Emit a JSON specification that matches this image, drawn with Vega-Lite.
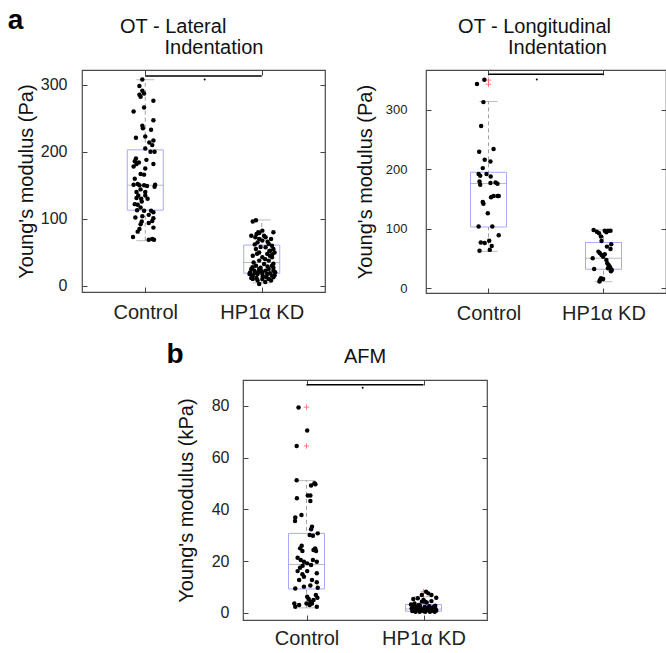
{
"$schema": "https://vega.github.io/schema/vega-lite/v6.json",
"padding": {"left": 7, "top": 6, "right": 4, "bottom": 5},
"config": {
  "font": "Liberation Sans",
  "view": {"stroke": "#4a4a4a", "strokeWidth": 1.2},
  "axis": {"grid": false, "domain": false, "tickSize": -5, "tickColor": "#444", "tickWidth": 1, "labelFontSize": 16, "labelColor": "#222", "titleFontSize": 20, "titleFontWeight": "normal", "titleColor": "#111"},
  "title": {"color": "#111"}
},
"datasets": {
  "latBox": [{"g": 1, "q1": 113, "med": 150, "q3": 203, "lo": 67.5, "hi": 307.5}, {"g": 2, "q1": 19, "med": 35, "q3": 61, "lo": 4.5, "hi": 98.5}],
  "latSig": [{"x1": 1, "x2": 2, "y": 313, "mx": 1.51, "my": 308}],
  "latPts": [
    {"x": 0.975, "v": 308}, {"x": 0.95, "v": 298}, {"x": 0.975, "v": 291}, {"x": 0.95, "v": 285}, {"x": 0.96, "v": 282}, {"x": 0.99, "v": 287}, {"x": 1.07, "v": 276}, {"x": 0.90, "v": 260}, {"x": 0.99, "v": 266}, {"x": 1.07, "v": 247}, {"x": 0.975, "v": 239}, {"x": 0.98, "v": 235}, {"x": 1.05, "v": 233}, {"x": 0.92, "v": 221}, {"x": 1.0, "v": 223}, {"x": 1.07, "v": 217}, {"x": 1.035, "v": 214}, {"x": 1.06, "v": 210}, {"x": 1.045, "v": 200}, {"x": 1.08, "v": 200}, {"x": 1.0, "v": 205}, {"x": 0.92, "v": 190}, {"x": 0.91, "v": 186}, {"x": 0.925, "v": 182}, {"x": 0.90, "v": 178}, {"x": 1.01, "v": 188}, {"x": 1.07, "v": 182}, {"x": 1.0, "v": 175}, {"x": 0.96, "v": 167}, {"x": 0.99, "v": 166}, {"x": 0.91, "v": 160}, {"x": 0.935, "v": 152}, {"x": 0.90, "v": 151}, {"x": 0.95, "v": 150}, {"x": 0.99, "v": 150}, {"x": 1.015, "v": 149}, {"x": 1.085, "v": 151}, {"x": 0.96, "v": 144}, {"x": 0.925, "v": 140}, {"x": 1.0, "v": 140}, {"x": 0.94, "v": 135}, {"x": 0.925, "v": 131}, {"x": 0.965, "v": 130}, {"x": 1.0, "v": 135}, {"x": 0.91, "v": 122}, {"x": 0.935, "v": 121}, {"x": 0.97, "v": 126}, {"x": 0.99, "v": 112}, {"x": 1.05, "v": 112}, {"x": 1.03, "v": 106}, {"x": 1.07, "v": 110}, {"x": 0.915, "v": 102}, {"x": 0.975, "v": 104}, {"x": 0.97, "v": 96}, {"x": 0.96, "v": 92}, {"x": 1.07, "v": 101}, {"x": 1.03, "v": 94}, {"x": 0.95, "v": 85}, {"x": 1.07, "v": 87}, {"x": 0.895, "v": 73}, {"x": 0.935, "v": 81}, {"x": 1.03, "v": 69}, {"x": 1.06, "v": 70}, {"x": 1.075, "v": 69}, {"x": 1.08, "v": 148}, {"x": 0.945, "v": 184}, {"x": 1.06, "v": 97}, {"x": 0.93, "v": 113}, {"x": 1.02, "v": 130}, {"x": 0.96, "v": 117},
    {"x": 1.923, "v": 96}, {"x": 1.95, "v": 98}, {"x": 2.005, "v": 82.5}, {"x": 1.978, "v": 79}, {"x": 1.956, "v": 77.6}, {"x": 2.1, "v": 80}, {"x": 1.91, "v": 75}, {"x": 1.945, "v": 72.7}, {"x": 1.978, "v": 70}, {"x": 2.033, "v": 72.7}, {"x": 2.005, "v": 67.6}, {"x": 1.964, "v": 65}, {"x": 2.06, "v": 62.7}, {"x": 2.088, "v": 60}, {"x": 2.033, "v": 57.7}, {"x": 1.95, "v": 55}, {"x": 2.074, "v": 52.7}, {"x": 2.1, "v": 55}, {"x": 1.978, "v": 50}, {"x": 2.047, "v": 47.8}, {"x": 1.923, "v": 45}, {"x": 2.005, "v": 42.8}, {"x": 2.088, "v": 42.8}, {"x": 1.978, "v": 37.8}, {"x": 2.06, "v": 37.8}, {"x": 2.02, "v": 32.8}, {"x": 1.95, "v": 30.3}, {"x": 2.088, "v": 30.3}, {"x": 1.91, "v": 25.4}, {"x": 1.937, "v": 22.8}, {"x": 1.978, "v": 25.4}, {"x": 2.033, "v": 22.8}, {"x": 2.06, "v": 25.4}, {"x": 2.1, "v": 22.8}, {"x": 1.895, "v": 17.9}, {"x": 1.923, "v": 15.4}, {"x": 1.964, "v": 17.9}, {"x": 2.005, "v": 17.9}, {"x": 2.047, "v": 17.9}, {"x": 2.088, "v": 15.4}, {"x": 2.115, "v": 20.4}, {"x": 1.923, "v": 10.4}, {"x": 1.964, "v": 8}, {"x": 2.005, "v": 10.4}, {"x": 2.06, "v": 10.4}, {"x": 2.1, "v": 13}, {"x": 1.978, "v": 3},
    {"x": 1.90, "v": 20}, {"x": 1.94, "v": 19}, {"x": 1.97, "v": 21}, {"x": 2.01, "v": 14}, {"x": 2.04, "v": 13}, {"x": 2.07, "v": 19}, {"x": 2.11, "v": 16}, {"x": 1.92, "v": 28}, {"x": 1.99, "v": 27}, {"x": 2.05, "v": 29}, {"x": 2.10, "v": 33}, {"x": 1.93, "v": 35}, {"x": 2.03, "v": 40}, {"x": 2.07, "v": 45}, {"x": 2.11, "v": 50}, {"x": 1.96, "v": 48}, {"x": 1.99, "v": 58}, {"x": 2.05, "v": 66}, {"x": 2.08, "v": 70}, {"x": 1.94, "v": 62}, {"x": 2.02, "v": 75}, {"x": 1.97, "v": 80}, {"x": 2.09, "v": 47}, {"x": 1.91, "v": 12}, {"x": 2.03, "v": 6}, {"x": 2.08, "v": 8}, {"x": 2.00, "v": 22}, {"x": 1.955, "v": 12}, {"x": 2.10, "v": 27}, {"x": 2.065, "v": 52}
  ],
  "lonBox": [{"g": 1, "q1": 103, "med": 176, "q3": 195, "lo": 62, "hi": 314}, {"g": 2, "q1": 32, "med": 50.5, "q3": 77, "lo": 11, "hi": 98}],
  "lonOut": [{"g": 1, "v": 350}, {"g": 1, "v": 343}],
  "lonSig": [{"x1": 1, "x2": 2, "y": 360, "mx": 1.42, "my": 351}],
  "lonPts": [
    {"x": 0.964, "v": 350.7}, {"x": 0.9, "v": 343.4}, {"x": 0.956, "v": 313}, {"x": 0.936, "v": 273}, {"x": 1.044, "v": 234}, {"x": 0.919, "v": 229.5}, {"x": 0.967, "v": 216}, {"x": 1.017, "v": 213}, {"x": 0.95, "v": 202}, {"x": 0.914, "v": 192}, {"x": 0.928, "v": 189}, {"x": 0.983, "v": 192}, {"x": 1.019, "v": 188}, {"x": 0.922, "v": 179.5}, {"x": 0.928, "v": 174}, {"x": 1.017, "v": 177}, {"x": 1.061, "v": 178}, {"x": 1.078, "v": 175.6}, {"x": 1.022, "v": 153}, {"x": 1.044, "v": 155}, {"x": 1.078, "v": 155}, {"x": 1.089, "v": 155}, {"x": 0.95, "v": 145}, {"x": 0.956, "v": 142}, {"x": 0.994, "v": 126}, {"x": 0.914, "v": 103.7}, {"x": 1.033, "v": 103.7}, {"x": 1.089, "v": 89}, {"x": 0.933, "v": 77}, {"x": 0.967, "v": 76}, {"x": 1.006, "v": 80}, {"x": 1.028, "v": 71}, {"x": 1.011, "v": 64.5}, {"x": 0.922, "v": 63},
    {"x": 1.914, "v": 98}, {"x": 1.942, "v": 95}, {"x": 1.961, "v": 92.6}, {"x": 2.011, "v": 96.5}, {"x": 2.039, "v": 96.5}, {"x": 2.061, "v": 96.5}, {"x": 2.025, "v": 94}, {"x": 1.978, "v": 87}, {"x": 1.983, "v": 79.6}, {"x": 2.067, "v": 74}, {"x": 2.061, "v": 66}, {"x": 1.956, "v": 61.6}, {"x": 1.969, "v": 59}, {"x": 1.983, "v": 56}, {"x": 1.997, "v": 53}, {"x": 2.011, "v": 57}, {"x": 1.906, "v": 50.5}, {"x": 2.025, "v": 47.6}, {"x": 2.033, "v": 42}, {"x": 2.044, "v": 39}, {"x": 2.053, "v": 36.4}, {"x": 2.061, "v": 33.7}, {"x": 2.072, "v": 30.8}, {"x": 2.039, "v": 33.7}, {"x": 1.919, "v": 32.5}, {"x": 1.978, "v": 16.8}, {"x": 1.997, "v": 15.7}, {"x": 1.969, "v": 14}, {"x": 1.965, "v": 11.5}, {"x": 2.03, "v": 70}, {"x": 2.065, "v": 28.5}
  ],
  "afmBox": [{"g": 1, "q1": 9.2, "med": 18.7, "q3": 30.7, "lo": 1.9, "hi": 51.1}, {"g": 2, "q1": 0.6, "med": 1.5, "q3": 3.2, "lo": 0.2, "hi": 6.2}],
  "afmOut": [{"g": 1, "v": 79.5}, {"g": 1, "v": 64.5}, {"g": 2, "v": 8.1}],
  "afmSig": [{"x1": 1, "x2": 2, "y": 88.2, "mx": 1.48, "my": 87}],
  "afmPts": [
    {"x": 0.932, "v": 79.4}, {"x": 1.006, "v": 70.5}, {"x": 0.916, "v": 64.5}, {"x": 0.916, "v": 51.2}, {"x": 1.068, "v": 50.1}, {"x": 1.039, "v": 49.2}, {"x": 1.076, "v": 49.7}, {"x": 0.918, "v": 44.3}, {"x": 1.011, "v": 45.3}, {"x": 1.033, "v": 45.3}, {"x": 1.033, "v": 43.2}, {"x": 0.904, "v": 36.8}, {"x": 0.902, "v": 35.5}, {"x": 0.957, "v": 37.8}, {"x": 1.047, "v": 33.3}, {"x": 1.039, "v": 32.3}, {"x": 1.096, "v": 30.7}, {"x": 1.027, "v": 30.1}, {"x": 1.055, "v": 29.8}, {"x": 0.959, "v": 25.9}, {"x": 0.945, "v": 24.9}, {"x": 0.965, "v": 23.9}, {"x": 1.074, "v": 24.9}, {"x": 1.06, "v": 24.3}, {"x": 1.082, "v": 23.9}, {"x": 0.924, "v": 21.3}, {"x": 0.951, "v": 20.4}, {"x": 0.978, "v": 19.7}, {"x": 1.055, "v": 20.4}, {"x": 1.039, "v": 18.5}, {"x": 1.088, "v": 19.7}, {"x": 0.967, "v": 18.2}, {"x": 0.945, "v": 17.4}, {"x": 1.006, "v": 19.1}, {"x": 0.924, "v": 16.1}, {"x": 0.965, "v": 14.9}, {"x": 0.978, "v": 13.9}, {"x": 1.088, "v": 15.3}, {"x": 1.006, "v": 16.1}, {"x": 0.937, "v": 12.7}, {"x": 1.047, "v": 12.7}, {"x": 1.088, "v": 11.8}, {"x": 0.978, "v": 10.1}, {"x": 1.033, "v": 10.5}, {"x": 1.096, "v": 9.7}, {"x": 0.904, "v": 9.4}, {"x": 1.006, "v": 6.2}, {"x": 1.019, "v": 5.3}, {"x": 1.033, "v": 4.3}, {"x": 1.047, "v": 3.6}, {"x": 1.06, "v": 4.9}, {"x": 1.08, "v": 6.9}, {"x": 1.093, "v": 5.8}, {"x": 0.896, "v": 3.6}, {"x": 0.904, "v": 2.3}, {"x": 0.937, "v": 3.0}, {"x": 1.088, "v": 2.3}, {"x": 1.0, "v": 3.6}, {"x": 1.027, "v": 3.0},
    {"x": 2.022, "v": 8.1}, {"x": 2.041, "v": 7.5}, {"x": 2.068, "v": 6.9}, {"x": 1.986, "v": 6.9}, {"x": 2.109, "v": 5.8}, {"x": 1.913, "v": 5.3}, {"x": 1.951, "v": 5.6}, {"x": 2.0, "v": 4.9}, {"x": 1.986, "v": 4.3}, {"x": 2.014, "v": 4.3}, {"x": 2.027, "v": 4.0}, {"x": 2.068, "v": 4.5}, {"x": 1.893, "v": 3.2}, {"x": 1.923, "v": 3.6},
    {"x": 1.899, "v": 1.7}, {"x": 1.918, "v": 1.0}, {"x": 1.94, "v": 1.9}, {"x": 1.959, "v": 1.0}, {"x": 1.978, "v": 1.7}, {"x": 2.0, "v": 0.7}, {"x": 2.022, "v": 1.4}, {"x": 2.041, "v": 1.0}, {"x": 2.055, "v": 1.7}, {"x": 2.082, "v": 1.0}, {"x": 2.104, "v": 1.4}, {"x": 1.904, "v": 0.7}, {"x": 1.932, "v": 0.4}, {"x": 1.967, "v": 0.4}, {"x": 1.986, "v": 1.0}, {"x": 2.014, "v": 0.4}, {"x": 2.033, "v": 1.9}, {"x": 2.055, "v": 0.4}, {"x": 2.077, "v": 1.9}, {"x": 2.096, "v": 0.4}, {"x": 2.109, "v": 0.9}, {"x": 1.93, "v": 2.4}, {"x": 1.97, "v": 2.6}, {"x": 2.01, "v": 2.2}, {"x": 2.05, "v": 2.5}, {"x": 2.09, "v": 2.3}, {"x": 1.95, "v": 1.3}, {"x": 2.03, "v": 1.2}, {"x": 2.07, "v": 0.8}, {"x": 1.91, "v": 2.2}, {"x": 2.1, "v": 2.7}, {"x": 1.96, "v": 3.0}
  ]
},
"spacing": 16,
"vconcat": [
  {
    "title": {"text": "a", "anchor": "start", "frame": "bounds", "fontSize": 28, "fontWeight": "bold", "color": "#000", "offset": -19, "dx": -8},
    "spacing": 27,
    "hconcat": [
      {
        "width": 243, "height": 222,
        "title": {"text": ["OT - Lateral", "\u200b\u00a0\u00a0\u00a0\u00a0\u00a0\u00a0\u00a0\u00a0Indentation"], "anchor": "start", "frame": "group", "dx": 38, "fontSize": 20, "fontWeight": "normal", "lineHeight": 21, "offset": 12},
        "resolve": {"axis": {"x": "independent", "y": "independent"}},
        "layer": [
          {"data": {"name": "latBox"}, "mark": {"type": "rule", "color": "#a0a0a0", "strokeDash": [4, 3]},
           "encoding": {
             "x": {"field": "g", "type": "quantitative", "scale": {"domain": [0.5, 2.5], "nice": false, "zero": false}, "axis": {"values": [1, 2], "labelExpr": "datum.value == 1 ? 'Control' : 'HP1α KD'", "title": null, "labelFontSize": 20, "labelPadding": 15}},
             "y": {"field": "lo", "type": "quantitative", "scale": {"domain": [-9, 322], "nice": false, "zero": false}, "axis": {"values": [0, 100, 200, 300], "title": "Young's modulus (Pa)", "titlePadding": 4, "labelPadding": 20}},
             "y2": {"field": "hi"}}},
          {"data": {"name": "latBox"}, "mark": {"type": "tick", "orient": "horizontal", "size": 18, "thickness": 1, "color": "#a0a0a0"},
           "encoding": {"x": {"field": "g", "type": "quantitative", "axis": null}, "y": {"field": "hi", "type": "quantitative", "axis": null}}},
          {"data": {"name": "latBox"}, "mark": {"type": "tick", "orient": "horizontal", "size": 18, "thickness": 1, "color": "#a0a0a0"},
           "encoding": {"x": {"field": "g", "type": "quantitative", "axis": null}, "y": {"field": "lo", "type": "quantitative", "axis": null}}},
          {"data": {"name": "latBox"}, "mark": {"type": "bar", "orient": "vertical", "width": 36, "fill": "white", "stroke": "#a8a8ff", "strokeWidth": 1},
           "encoding": {"x": {"field": "g", "type": "quantitative", "axis": null}, "y": {"field": "q1", "type": "quantitative", "axis": null}, "y2": {"field": "q3"}}},
          {"data": {"name": "latBox"}, "mark": {"type": "tick", "orient": "horizontal", "size": 36, "thickness": 1, "color": "#a0a0a0"},
           "encoding": {"x": {"field": "g", "type": "quantitative", "axis": null}, "y": {"field": "med", "type": "quantitative", "axis": null}}},
          {"data": {"name": "latPts"}, "mark": {"type": "circle", "size": 20, "color": "#000", "opacity": 1},
           "encoding": {"x": {"field": "x", "type": "quantitative", "axis": null}, "y": {"field": "v", "type": "quantitative", "axis": null}}},
          {"data": {"name": "latSig"}, "mark": {"type": "rule", "color": "#000", "strokeWidth": 1.5},
           "encoding": {"x": {"field": "x1", "type": "quantitative", "axis": null}, "x2": {"field": "x2"}, "y": {"field": "y", "type": "quantitative", "axis": null}}},
          {"data": {"name": "latSig"}, "mark": {"type": "circle", "size": 4, "color": "#000", "opacity": 1},
           "encoding": {"x": {"field": "mx", "type": "quantitative", "axis": null}, "y": {"field": "my", "type": "quantitative", "axis": null}}},
          {"data": {"name": "latBox"}, "mark": {"type": "point", "opacity": 0},
           "encoding": {"x": {"field": "g", "type": "quantitative", "axis": {"orient": "top", "values": [1, 2], "labels": false, "title": null}}, "y": {"field": "med", "type": "quantitative", "axis": {"orient": "right", "values": [0, 100, 200, 300], "labels": false, "title": null}}}}
        ]
      },
      {
        "width": 240, "height": 223,
        "title": {"text": ["OT - Longitudinal", "\u200b\u00a0\u00a0\u00a0\u00a0\u00a0\u00a0\u00a0\u00a0\u00a0Indentation"], "anchor": "start", "frame": "group", "dx": 32, "fontSize": 20, "fontWeight": "normal", "lineHeight": 21, "offset": 12},
        "resolve": {"axis": {"x": "independent", "y": "independent"}},
        "layer": [
          {"data": {"name": "lonBox"}, "mark": {"type": "rule", "color": "#a0a0a0", "strokeDash": [4, 3]},
           "encoding": {
             "x": {"field": "g", "type": "quantitative", "scale": {"domain": [0.5, 2.5], "nice": false, "zero": false}, "axis": {"values": [1, 2], "labelExpr": "datum.value == 1 ? 'Control' : 'HP1α KD'", "title": null, "labelFontSize": 20, "labelPadding": 15}},
             "y": {"field": "lo", "type": "quantitative", "scale": {"domain": [-8, 367], "nice": false, "zero": false}, "axis": {"values": [0, 100, 200, 300], "title": "Young's modulus (Pa)", "titlePadding": 10, "labelPadding": 24, "labelFontSize": 13}},
             "y2": {"field": "hi"}}},
          {"data": {"name": "lonBox"}, "mark": {"type": "tick", "orient": "horizontal", "size": 18, "thickness": 1, "color": "#a0a0a0"},
           "encoding": {"x": {"field": "g", "type": "quantitative", "axis": null}, "y": {"field": "hi", "type": "quantitative", "axis": null}}},
          {"data": {"name": "lonBox"}, "mark": {"type": "tick", "orient": "horizontal", "size": 18, "thickness": 1, "color": "#a0a0a0"},
           "encoding": {"x": {"field": "g", "type": "quantitative", "axis": null}, "y": {"field": "lo", "type": "quantitative", "axis": null}}},
          {"data": {"name": "lonBox"}, "mark": {"type": "bar", "orient": "vertical", "width": 36, "fill": "white", "stroke": "#a8a8ff", "strokeWidth": 1},
           "encoding": {"x": {"field": "g", "type": "quantitative", "axis": null}, "y": {"field": "q1", "type": "quantitative", "axis": null}, "y2": {"field": "q3"}}},
          {"data": {"name": "lonBox"}, "mark": {"type": "tick", "orient": "horizontal", "size": 36, "thickness": 1, "color": "#a0a0a0"},
           "encoding": {"x": {"field": "g", "type": "quantitative", "axis": null}, "y": {"field": "med", "type": "quantitative", "axis": null}}},
          {"data": {"name": "lonOut"}, "mark": {"type": "point", "shape": "M-1,0H1M0,-1V1", "size": 30, "filled": false, "stroke": "#ff6060", "strokeWidth": 0.8, "opacity": 1},
           "encoding": {"x": {"field": "g", "type": "quantitative", "axis": null}, "y": {"field": "v", "type": "quantitative", "axis": null}}},
          {"data": {"name": "lonPts"}, "mark": {"type": "circle", "size": 20, "color": "#000", "opacity": 1},
           "encoding": {"x": {"field": "x", "type": "quantitative", "axis": null}, "y": {"field": "v", "type": "quantitative", "axis": null}}},
          {"data": {"name": "lonSig"}, "mark": {"type": "rule", "color": "#000", "strokeWidth": 1.5},
           "encoding": {"x": {"field": "x1", "type": "quantitative", "axis": null}, "x2": {"field": "x2"}, "y": {"field": "y", "type": "quantitative", "axis": null}}},
          {"data": {"name": "lonSig"}, "mark": {"type": "circle", "size": 4, "color": "#000", "opacity": 1},
           "encoding": {"x": {"field": "mx", "type": "quantitative", "axis": null}, "y": {"field": "my", "type": "quantitative", "axis": null}}},
          {"data": {"name": "lonBox"}, "mark": {"type": "point", "opacity": 0},
           "encoding": {"x": {"field": "g", "type": "quantitative", "axis": {"orient": "top", "values": [1, 2], "labels": false, "title": null}}, "y": {"field": "med", "type": "quantitative", "axis": {"orient": "right", "values": [0, 100, 200, 300], "labels": false, "title": null}}}}
        ]
      }
    ]
  },
  {
    "spacing": 0,
    "hconcat": [
      {"width": 84, "height": 10, "view": {"stroke": null}, "data": {"values": []}, "mark": "point", "encoding": {}},
      {
        "title": {"text": "b", "anchor": "start", "frame": "bounds", "fontSize": 28, "fontWeight": "bold", "color": "#000", "offset": -23, "dx": -9},
        "vconcat": [
          {
            "width": 244, "height": 240,
            "title": {"text": "AFM", "anchor": "middle", "frame": "group", "fontSize": 20, "fontWeight": "normal", "offset": 13},
            "resolve": {"axis": {"x": "independent", "y": "independent"}},
            "layer": [
              {"data": {"name": "afmBox"}, "mark": {"type": "rule", "color": "#a0a0a0", "strokeDash": [4, 3]},
               "encoding": {
                 "x": {"field": "g", "type": "quantitative", "scale": {"domain": [0.5, 2.5], "nice": false, "zero": false}, "axis": {"values": [1, 2], "labelExpr": "datum.value == 1 ? 'Control' : 'HP1α KD'", "title": null, "labelFontSize": 20, "labelPadding": 13}},
                 "y": {"field": "lo", "type": "quantitative", "scale": {"domain": [-2.8, 90], "nice": false, "zero": false}, "axis": {"values": [0, 20, 40, 60, 80], "title": "Young's modulus (kPa)", "titlePadding": 15, "labelPadding": 19}},
                 "y2": {"field": "hi"}}},
              {"data": {"name": "afmBox"}, "mark": {"type": "tick", "orient": "horizontal", "size": 18, "thickness": 1, "color": "#a0a0a0"},
               "encoding": {"x": {"field": "g", "type": "quantitative", "axis": null}, "y": {"field": "hi", "type": "quantitative", "axis": null}}},
              {"data": {"name": "afmBox"}, "mark": {"type": "tick", "orient": "horizontal", "size": 18, "thickness": 1, "color": "#a0a0a0"},
               "encoding": {"x": {"field": "g", "type": "quantitative", "axis": null}, "y": {"field": "lo", "type": "quantitative", "axis": null}}},
              {"data": {"name": "afmBox"}, "mark": {"type": "bar", "orient": "vertical", "width": 36, "fill": "white", "stroke": "#a8a8ff", "strokeWidth": 1},
               "encoding": {"x": {"field": "g", "type": "quantitative", "axis": null}, "y": {"field": "q1", "type": "quantitative", "axis": null}, "y2": {"field": "q3"}}},
              {"data": {"name": "afmBox"}, "mark": {"type": "tick", "orient": "horizontal", "size": 36, "thickness": 1, "color": "#a0a0a0"},
               "encoding": {"x": {"field": "g", "type": "quantitative", "axis": null}, "y": {"field": "med", "type": "quantitative", "axis": null}}},
              {"data": {"name": "afmOut"}, "mark": {"type": "point", "shape": "M-1,0H1M0,-1V1", "size": 30, "filled": false, "stroke": "#ff6060", "strokeWidth": 0.8, "opacity": 1},
               "encoding": {"x": {"field": "g", "type": "quantitative", "axis": null}, "y": {"field": "v", "type": "quantitative", "axis": null}}},
              {"data": {"name": "afmPts"}, "mark": {"type": "circle", "size": 20, "color": "#000", "opacity": 1},
               "encoding": {"x": {"field": "x", "type": "quantitative", "axis": null}, "y": {"field": "v", "type": "quantitative", "axis": null}}},
              {"data": {"name": "afmSig"}, "mark": {"type": "rule", "color": "#000", "strokeWidth": 1.5},
               "encoding": {"x": {"field": "x1", "type": "quantitative", "axis": null}, "x2": {"field": "x2"}, "y": {"field": "y", "type": "quantitative", "axis": null}}},
              {"data": {"name": "afmSig"}, "mark": {"type": "circle", "size": 4, "color": "#000", "opacity": 1},
               "encoding": {"x": {"field": "mx", "type": "quantitative", "axis": null}, "y": {"field": "my", "type": "quantitative", "axis": null}}},
              {"data": {"name": "afmBox"}, "mark": {"type": "point", "opacity": 0},
               "encoding": {"x": {"field": "g", "type": "quantitative", "axis": {"orient": "top", "values": [1, 2], "labels": false, "title": null}}, "y": {"field": "med", "type": "quantitative", "axis": {"orient": "right", "values": [0, 20, 40, 60, 80], "labels": false, "title": null}}}}
            ]
          }
        ]
      }
    ]
  }
]
}
